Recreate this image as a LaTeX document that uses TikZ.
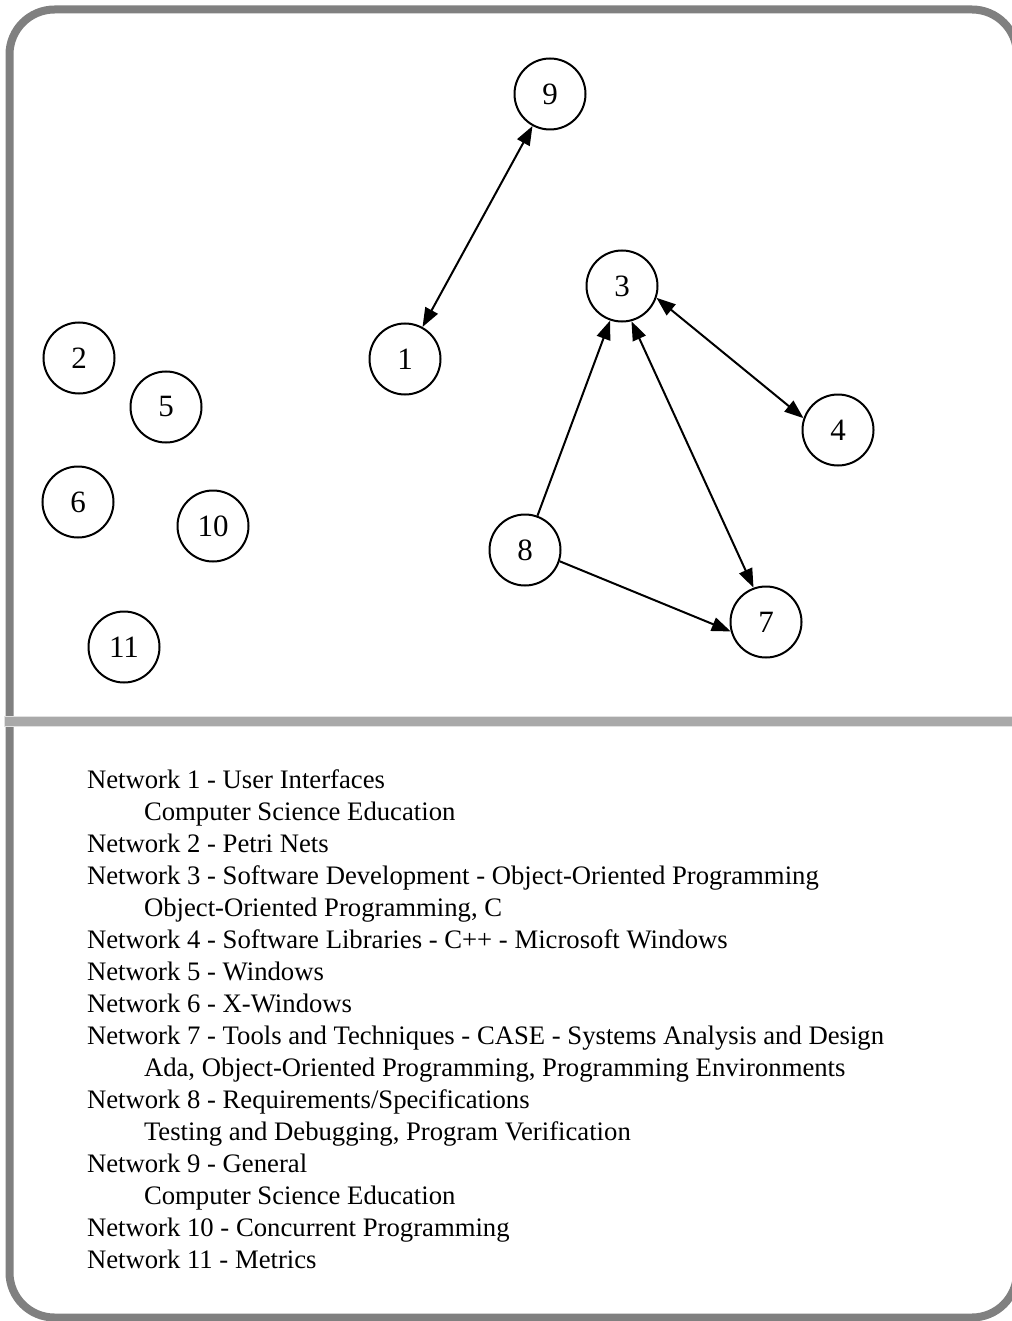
\documentclass[tikz,border=0pt]{standalone}
\usepackage{fontspec}
\setmainfont{Liberation Serif}
\usetikzlibrary{arrows.meta}
\definecolor{framegray}{RGB}{128,128,128}
\definecolor{rulegray}{RGB}{169,169,169}
\definecolor{ruleedge}{RGB}{225,225,225}

\begin{document}
\begin{tikzpicture}[x=1pt,y=-1pt,line width=2pt,>={Triangle[length=19pt,width=14pt]},
  vertex/.style={circle,draw,minimum size=71pt,inner sep=0pt,font=\fontsize{31}{31}\selectfont},
  item/.style={anchor=base west,inner sep=0pt,font=\fontsize{26.7}{30}\selectfont}]
\useasboundingbox (0,0) rectangle (1011,1321);
% frame and rule
\draw[framegray,line width=8pt,rounded corners=45pt] (9.5,9.5) rectangle (1017,1317.5);
\draw[ruleedge,line width=11pt] (4,721.5) -- (1020,721.5);
\draw[rulegray,line width=9pt] (5,721.5) -- (1020,721.5);
% networks
\node[vertex] (n9) at (550,94) {9};
\node[vertex] (n1) at (405,359) {1};
\node[vertex] (n3) at (622,286) {3};
\node[vertex] (n2) at (79,358) {2};
\node[vertex] (n5) at (166,407) {5};
\node[vertex] (n4) at (838,430) {4};
\node[vertex] (n6) at (78,502) {6};
\node[vertex] (n10) at (213,526) {10};
\node[vertex] (n8) at (525,550) {8};
\node[vertex] (n7) at (766,622) {7};
\node[vertex] (n11) at (124,647) {11};
\path[->]
(n9) edge[<->] (n1)
(n3.-19) edge[<->] (n4.161)
(n3.-75) edge[<->] (n7.110)
(n8.70) edge (n3.-109)
(n8.-18) edge (n7.195);
% legend
\node[item] (t1) at (86,788) {Network 1 - User Interfaces};
\node[item] (t1b) at (143,820) {Computer Science Education};
\node[item] (t2) at (86,852) {Network 2 - Petri Nets};
\node[item] (t3) at (86,884) {Network 3 - Software Development - Object-Oriented Programming};
\node[item] (t3b) at (143,916) {Object-Oriented Programming, C};
\node[item] (t4) at (86,948) {Network 4 - Software Libraries - C++ - Microsoft Windows};
\node[item] (t5) at (86,980) {Network 5 - Windows};
\node[item] (t6) at (86,1012) {Network 6 - X-Windows};
\node[item] (t7) at (86,1044) {Network 7 - Tools and Techniques - CASE - Systems Analysis and Design};
\node[item] (t7b) at (143,1076) {Ada, Object-Oriented Programming, Programming Environments};
\node[item] (t8) at (86,1108) {Network 8 - Requirements/Specifications};
\node[item] (t8b) at (143,1140) {Testing and Debugging, Program Verification};
\node[item] (t9) at (86,1172) {Network 9 - General};
\node[item] (t9b) at (143,1204) {Computer Science Education};
\node[item] (t10) at (86,1236) {Network 10 - Concurrent Programming};
\node[item] (t11) at (86,1268) {Network 11 - Metrics};
\end{tikzpicture}
\end{document}
